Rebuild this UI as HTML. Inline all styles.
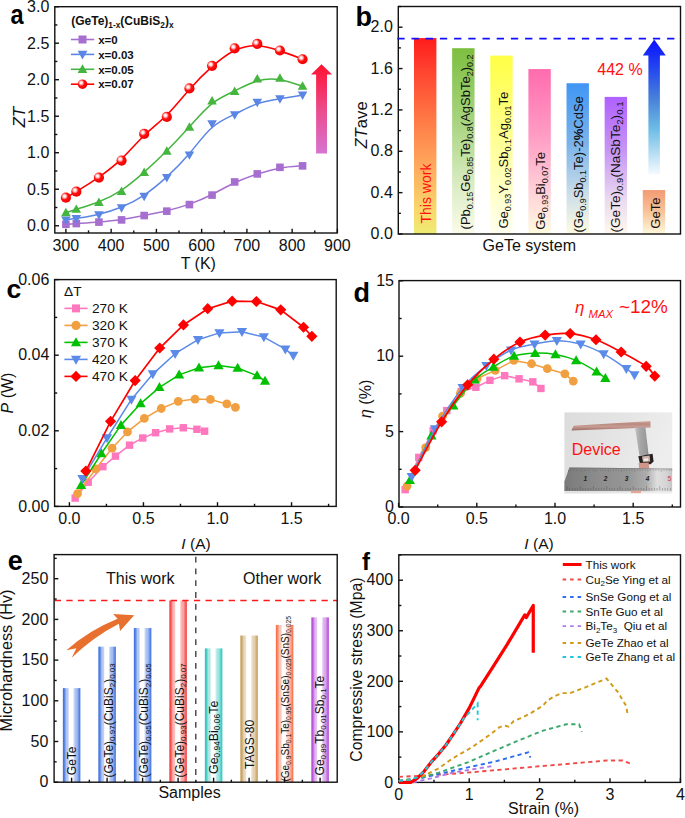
<!DOCTYPE html>
<html><head><meta charset="utf-8"><title>figure</title>
<style>html,body{margin:0;padding:0;background:#fff;overflow:hidden;}svg{display:block;}text{font-family:"Liberation Sans",sans-serif;}</style></head><body>
<svg width="685" height="818" viewBox="0 0 685 818" font-family='&quot;Liberation Sans&quot;, sans-serif'>
<defs><radialGradient id="sph" cx="0.37" cy="0.37" r="0.64" fx="0.36" fy="0.35"><stop offset="0" stop-color="#fff"/><stop offset="0.16" stop-color="#fff0f0"/><stop offset="0.32" stop-color="#ff9a9a"/><stop offset="0.52" stop-color="#ff1010"/><stop offset="1" stop-color="#f20000"/></radialGradient>
<linearGradient id="arrA" x1="0" y1="1" x2="0" y2="0"><stop offset="0" stop-color="#d674d2"/><stop offset="0.5" stop-color="#ec4a8a"/><stop offset="1" stop-color="#ff1030"/></linearGradient>
<linearGradient id="gb1" x1="0" y1="0" x2="0" y2="1"><stop offset="0" stop-color="#ff1c1c"/><stop offset="0.18" stop-color="#ff4630"/><stop offset="0.42" stop-color="#ff7a46"/><stop offset="0.66" stop-color="#ffaa5e"/><stop offset="0.86" stop-color="#fad46a"/><stop offset="1" stop-color="#eeec72"/></linearGradient>
<linearGradient id="gb2" x1="0" y1="0" x2="0" y2="1"><stop offset="0" stop-color="#7dbf40"/><stop offset="0.4" stop-color="#a8d480"/><stop offset="0.75" stop-color="#dcedc6"/><stop offset="1" stop-color="#fbfbe9"/></linearGradient>
<linearGradient id="gb3" x1="0" y1="0" x2="0" y2="1"><stop offset="0" stop-color="#ffff45"/><stop offset="0.4" stop-color="#ffff88"/><stop offset="0.75" stop-color="#ffffc4"/><stop offset="1" stop-color="#fffff2"/></linearGradient>
<linearGradient id="gb4" x1="0" y1="0" x2="0" y2="1"><stop offset="0" stop-color="#ff6cae"/><stop offset="0.4" stop-color="#ff9cc4"/><stop offset="0.75" stop-color="#ffd3d8"/><stop offset="1" stop-color="#fffbe0"/></linearGradient>
<linearGradient id="gb5" x1="0" y1="0" x2="0" y2="1"><stop offset="0" stop-color="#4096f4"/><stop offset="0.4" stop-color="#7ab3ea"/><stop offset="0.75" stop-color="#cfe0e8"/><stop offset="1" stop-color="#fffbe2"/></linearGradient>
<linearGradient id="gb6" x1="0" y1="0" x2="0" y2="1"><stop offset="0" stop-color="#b060ff"/><stop offset="0.4" stop-color="#c896f4"/><stop offset="0.75" stop-color="#eadaf0"/><stop offset="1" stop-color="#fff8ec"/></linearGradient>
<linearGradient id="gb7" x1="0" y1="0" x2="0" y2="1"><stop offset="0" stop-color="#f29a72"/><stop offset="0.5" stop-color="#f8c49a"/><stop offset="1" stop-color="#fff8dc"/></linearGradient>
<linearGradient id="arrB" x1="0" y1="0" x2="0" y2="1"><stop offset="0" stop-color="#0a10ff"/><stop offset="0.18" stop-color="#1f3ef2"/><stop offset="0.45" stop-color="#4a84d8"/><stop offset="0.66" stop-color="#6cbce6"/><stop offset="0.84" stop-color="#b4ddf3"/><stop offset="1" stop-color="#f6faff"/></linearGradient>
<linearGradient id="phbg" x1="0" y1="0" x2="1" y2="0.3"><stop offset="0" stop-color="#dcdcdc"/><stop offset="0.6" stop-color="#e6e6e6"/><stop offset="1" stop-color="#eeeeee"/></linearGradient>
<linearGradient id="ruler" x1="0" y1="0" x2="1" y2="0"><stop offset="0" stop-color="#7a7a7a"/><stop offset="0.3" stop-color="#8c8c8c"/><stop offset="0.6" stop-color="#979797"/><stop offset="0.76" stop-color="#acacac"/><stop offset="0.86" stop-color="#dedede"/><stop offset="0.95" stop-color="#d4d4d4"/><stop offset="1" stop-color="#c4c4c4"/></linearGradient>
<linearGradient id="bar" x1="0" y1="0" x2="1" y2="0"><stop offset="0" stop-color="#9a9a9a"/><stop offset="0.45" stop-color="#c8c8c8"/><stop offset="1" stop-color="#b0b0b0"/></linearGradient>
<linearGradient id="cu" x1="0" y1="0" x2="0" y2="1"><stop offset="0" stop-color="#d8b0a6"/><stop offset="0.3" stop-color="#b88a80"/><stop offset="0.6" stop-color="#c89c92"/><stop offset="1" stop-color="#9a6c64"/></linearGradient>
<linearGradient id="vb" x1="0" y1="0" x2="1" y2="0"><stop offset="0" stop-color="#c4c4c4"/><stop offset="0.35" stop-color="#a8a8a8"/><stop offset="0.8" stop-color="#9a9a9a"/><stop offset="1" stop-color="#8a8a8a"/></linearGradient>
<linearGradient id="ge0" x1="0" y1="0" x2="1" y2="0"><stop offset="0" stop-color="#3a6ee0"/><stop offset="0.08" stop-color="#3a6ee0" stop-opacity="0.88"/><stop offset="0.22" stop-color="#3a6ee0" stop-opacity="0.35"/><stop offset="0.36" stop-color="#ffffff"/><stop offset="0.58" stop-color="#ffffff"/><stop offset="0.8" stop-color="#3a6ee0" stop-opacity="0.45"/><stop offset="0.93" stop-color="#3a6ee0" stop-opacity="0.82"/><stop offset="1" stop-color="#3a6ee0"/></linearGradient>
<linearGradient id="ge1" x1="0" y1="0" x2="1" y2="0"><stop offset="0" stop-color="#3a6ee0"/><stop offset="0.08" stop-color="#3a6ee0" stop-opacity="0.88"/><stop offset="0.22" stop-color="#3a6ee0" stop-opacity="0.35"/><stop offset="0.36" stop-color="#ffffff"/><stop offset="0.58" stop-color="#ffffff"/><stop offset="0.8" stop-color="#3a6ee0" stop-opacity="0.45"/><stop offset="0.93" stop-color="#3a6ee0" stop-opacity="0.82"/><stop offset="1" stop-color="#3a6ee0"/></linearGradient>
<linearGradient id="ge2" x1="0" y1="0" x2="1" y2="0"><stop offset="0" stop-color="#3a6ee0"/><stop offset="0.08" stop-color="#3a6ee0" stop-opacity="0.88"/><stop offset="0.22" stop-color="#3a6ee0" stop-opacity="0.35"/><stop offset="0.36" stop-color="#ffffff"/><stop offset="0.58" stop-color="#ffffff"/><stop offset="0.8" stop-color="#3a6ee0" stop-opacity="0.45"/><stop offset="0.93" stop-color="#3a6ee0" stop-opacity="0.82"/><stop offset="1" stop-color="#3a6ee0"/></linearGradient>
<linearGradient id="ge3" x1="0" y1="0" x2="1" y2="0"><stop offset="0" stop-color="#f23a3a"/><stop offset="0.08" stop-color="#f23a3a" stop-opacity="0.88"/><stop offset="0.22" stop-color="#f23a3a" stop-opacity="0.35"/><stop offset="0.36" stop-color="#ffffff"/><stop offset="0.58" stop-color="#ffffff"/><stop offset="0.8" stop-color="#f23a3a" stop-opacity="0.45"/><stop offset="0.93" stop-color="#f23a3a" stop-opacity="0.82"/><stop offset="1" stop-color="#f23a3a"/></linearGradient>
<linearGradient id="ge4" x1="0" y1="0" x2="1" y2="0"><stop offset="0" stop-color="#26c4bc"/><stop offset="0.08" stop-color="#26c4bc" stop-opacity="0.88"/><stop offset="0.22" stop-color="#26c4bc" stop-opacity="0.35"/><stop offset="0.36" stop-color="#ffffff"/><stop offset="0.58" stop-color="#ffffff"/><stop offset="0.8" stop-color="#26c4bc" stop-opacity="0.45"/><stop offset="0.93" stop-color="#26c4bc" stop-opacity="0.82"/><stop offset="1" stop-color="#26c4bc"/></linearGradient>
<linearGradient id="ge5" x1="0" y1="0" x2="1" y2="0"><stop offset="0" stop-color="#c49a52"/><stop offset="0.08" stop-color="#c49a52" stop-opacity="0.88"/><stop offset="0.22" stop-color="#c49a52" stop-opacity="0.35"/><stop offset="0.36" stop-color="#ffffff"/><stop offset="0.58" stop-color="#ffffff"/><stop offset="0.8" stop-color="#c49a52" stop-opacity="0.45"/><stop offset="0.93" stop-color="#c49a52" stop-opacity="0.82"/><stop offset="1" stop-color="#c49a52"/></linearGradient>
<linearGradient id="ge6" x1="0" y1="0" x2="1" y2="0"><stop offset="0" stop-color="#f86a42"/><stop offset="0.08" stop-color="#f86a42" stop-opacity="0.88"/><stop offset="0.22" stop-color="#f86a42" stop-opacity="0.35"/><stop offset="0.36" stop-color="#ffffff"/><stop offset="0.58" stop-color="#ffffff"/><stop offset="0.8" stop-color="#f86a42" stop-opacity="0.45"/><stop offset="0.93" stop-color="#f86a42" stop-opacity="0.82"/><stop offset="1" stop-color="#f86a42"/></linearGradient>
<linearGradient id="ge7" x1="0" y1="0" x2="1" y2="0"><stop offset="0" stop-color="#b044d6"/><stop offset="0.08" stop-color="#b044d6" stop-opacity="0.88"/><stop offset="0.22" stop-color="#b044d6" stop-opacity="0.35"/><stop offset="0.36" stop-color="#ffffff"/><stop offset="0.58" stop-color="#ffffff"/><stop offset="0.8" stop-color="#b044d6" stop-opacity="0.45"/><stop offset="0.93" stop-color="#b044d6" stop-opacity="0.82"/><stop offset="1" stop-color="#b044d6"/></linearGradient></defs>
<rect width="685" height="818" fill="#fff"/>
<rect x="54.8" y="6.7" width="282.4" height="226.3" fill="none" stroke="#111" stroke-width="1.4"/>
<line x1="54.8" y1="225.75" x2="59" y2="225.75" stroke="#111" stroke-width="1.4"/>
<line x1="54.8" y1="189.24" x2="59" y2="189.24" stroke="#111" stroke-width="1.4"/>
<line x1="54.8" y1="152.73" x2="59" y2="152.73" stroke="#111" stroke-width="1.4"/>
<line x1="54.8" y1="116.22" x2="59" y2="116.22" stroke="#111" stroke-width="1.4"/>
<line x1="54.8" y1="79.71" x2="59" y2="79.71" stroke="#111" stroke-width="1.4"/>
<line x1="54.8" y1="43.2" x2="59" y2="43.2" stroke="#111" stroke-width="1.4"/>
<line x1="54.8" y1="6.69" x2="59" y2="6.69" stroke="#111" stroke-width="1.4"/>
<line x1="54.8" y1="207.5" x2="57.4" y2="207.5" stroke="#111" stroke-width="1.4"/>
<line x1="54.8" y1="170.99" x2="57.4" y2="170.99" stroke="#111" stroke-width="1.4"/>
<line x1="54.8" y1="134.48" x2="57.4" y2="134.48" stroke="#111" stroke-width="1.4"/>
<line x1="54.8" y1="97.97" x2="57.4" y2="97.97" stroke="#111" stroke-width="1.4"/>
<line x1="54.8" y1="61.46" x2="57.4" y2="61.46" stroke="#111" stroke-width="1.4"/>
<line x1="54.8" y1="24.95" x2="57.4" y2="24.95" stroke="#111" stroke-width="1.4"/>
<line x1="65.9" y1="233" x2="65.9" y2="228.8" stroke="#111" stroke-width="1.4"/>
<line x1="111.15" y1="233" x2="111.15" y2="228.8" stroke="#111" stroke-width="1.4"/>
<line x1="156.4" y1="233" x2="156.4" y2="228.8" stroke="#111" stroke-width="1.4"/>
<line x1="201.65" y1="233" x2="201.65" y2="228.8" stroke="#111" stroke-width="1.4"/>
<line x1="246.9" y1="233" x2="246.9" y2="228.8" stroke="#111" stroke-width="1.4"/>
<line x1="292.15" y1="233" x2="292.15" y2="228.8" stroke="#111" stroke-width="1.4"/>
<line x1="337.4" y1="233" x2="337.4" y2="228.8" stroke="#111" stroke-width="1.4"/>
<line x1="88.53" y1="233" x2="88.53" y2="230.4" stroke="#111" stroke-width="1.4"/>
<line x1="133.78" y1="233" x2="133.78" y2="230.4" stroke="#111" stroke-width="1.4"/>
<line x1="179.03" y1="233" x2="179.03" y2="230.4" stroke="#111" stroke-width="1.4"/>
<line x1="224.28" y1="233" x2="224.28" y2="230.4" stroke="#111" stroke-width="1.4"/>
<line x1="269.52" y1="233" x2="269.52" y2="230.4" stroke="#111" stroke-width="1.4"/>
<line x1="314.77" y1="233" x2="314.77" y2="230.4" stroke="#111" stroke-width="1.4"/>
<text x="49.3" y="231.05" font-size="16" text-anchor="end" font-weight="normal" font-style="normal" fill="#111" >0.0</text>
<text x="49.3" y="194.54" font-size="16" text-anchor="end" font-weight="normal" font-style="normal" fill="#111" >0.5</text>
<text x="49.3" y="158.03" font-size="16" text-anchor="end" font-weight="normal" font-style="normal" fill="#111" >1.0</text>
<text x="49.3" y="121.52" font-size="16" text-anchor="end" font-weight="normal" font-style="normal" fill="#111" >1.5</text>
<text x="49.3" y="85.01" font-size="16" text-anchor="end" font-weight="normal" font-style="normal" fill="#111" >2.0</text>
<text x="49.3" y="48.5" font-size="16" text-anchor="end" font-weight="normal" font-style="normal" fill="#111" >2.5</text>
<text x="49.3" y="11.99" font-size="16" text-anchor="end" font-weight="normal" font-style="normal" fill="#111" >3.0</text>
<text x="65.9" y="251" font-size="16" text-anchor="middle" font-weight="normal" font-style="normal" fill="#111" >300</text>
<text x="111.15" y="251" font-size="16" text-anchor="middle" font-weight="normal" font-style="normal" fill="#111" >400</text>
<text x="156.4" y="251" font-size="16" text-anchor="middle" font-weight="normal" font-style="normal" fill="#111" >500</text>
<text x="201.65" y="251" font-size="16" text-anchor="middle" font-weight="normal" font-style="normal" fill="#111" >600</text>
<text x="246.9" y="251" font-size="16" text-anchor="middle" font-weight="normal" font-style="normal" fill="#111" >700</text>
<text x="292.15" y="251" font-size="16" text-anchor="middle" font-weight="normal" font-style="normal" fill="#111" >800</text>
<text x="337.4" y="251" font-size="16" text-anchor="middle" font-weight="normal" font-style="normal" fill="#111" >900</text>
<text x="198.3" y="268.8" font-size="16" text-anchor="middle" font-weight="normal" font-style="normal" fill="#111" >T (K)</text>
<text x="0" y="0" font-size="17" text-anchor="middle" font-weight="normal" font-style="italic" fill="#111" transform="translate(25.2,117.2) rotate(-90)">ZT</text>
<text x="0" y="0" font-size="28" text-anchor="start" font-weight="bold" font-style="normal" fill="#000" transform="translate(10.4,23.9) scale(0.84,1)">a</text>
<path d="M65.9,224.29 C65.9,224.29 65.9,224.29 67.63,224.17 C69.37,224.05 72.84,223.8 78.34,223.44 C83.85,223.07 91.39,222.59 98.93,221.98 C106.47,221.37 114.02,220.64 121.56,219.54 C129.1,218.45 136.64,216.99 144.18,215.53 C151.72,214.07 159.27,212.61 166.81,210.78 C174.35,208.96 181.89,206.76 189.43,204.09 C196.97,201.41 204.52,198.25 212.06,194.47 C219.6,190.7 227.14,186.32 234.68,182.79 C242.22,179.26 249.77,176.58 257.31,174.15 C264.85,171.72 272.39,169.52 279.93,168.19 C287.47,166.85 295.02,166.36 298.79,166.12 C302.56,165.87 302.56,165.87 302.56,165.87" fill="none" stroke="#a66fcf" stroke-width="1.5" stroke-linejoin="round"/>
<rect x="62.1" y="220.49" width="7.6" height="7.6" fill="#a66fcf"/>
<rect x="72.51" y="219.76" width="7.6" height="7.6" fill="#a66fcf"/>
<rect x="95.13" y="218.3" width="7.6" height="7.6" fill="#a66fcf"/>
<rect x="117.76" y="216.11" width="7.6" height="7.6" fill="#a66fcf"/>
<rect x="140.38" y="211.73" width="7.6" height="7.6" fill="#a66fcf"/>
<rect x="163.01" y="207.35" width="7.6" height="7.6" fill="#a66fcf"/>
<rect x="185.63" y="200.77" width="7.6" height="7.6" fill="#a66fcf"/>
<rect x="208.26" y="191.28" width="7.6" height="7.6" fill="#a66fcf"/>
<rect x="230.88" y="178.14" width="7.6" height="7.6" fill="#a66fcf"/>
<rect x="253.51" y="170.11" width="7.6" height="7.6" fill="#a66fcf"/>
<rect x="276.13" y="163.53" width="7.6" height="7.6" fill="#a66fcf"/>
<rect x="298.76" y="162.07" width="7.6" height="7.6" fill="#a66fcf"/>
<path d="M65.9,219.91 C65.9,219.91 65.9,219.91 67.63,219.66 C69.37,219.42 72.84,218.93 78.34,218.08 C83.85,217.23 91.39,216.01 98.93,214.24 C106.47,212.46 114.02,210.12 121.56,207.03 C129.1,203.94 136.64,200.1 144.18,195.06 C151.72,190.02 159.27,183.79 166.81,176.9 C174.35,170.01 181.89,162.47 189.43,153.52 C196.97,144.58 204.52,134.23 212.06,127.54 C219.6,120.84 227.14,117.8 234.68,114.21 C242.22,110.62 249.77,106.48 257.31,103.81 C264.85,101.13 272.39,99.91 279.93,98.7 C287.47,97.48 295.02,96.26 298.79,95.65 C302.56,95.04 302.56,95.04 302.56,95.04" fill="none" stroke="#5b86e3" stroke-width="1.5" stroke-linejoin="round"/>
<path d="M65.9,224.84 L70.69,216.38 L61.11,216.38 Z" fill="#5b86e3"/>
<path d="M76.31,223.38 L81.1,214.92 L71.51,214.92 Z" fill="#5b86e3"/>
<path d="M98.93,219.73 L103.73,211.27 L94.14,211.27 Z" fill="#5b86e3"/>
<path d="M121.56,212.72 L126.35,204.26 L116.76,204.26 Z" fill="#5b86e3"/>
<path d="M144.18,201.18 L148.98,192.72 L139.39,192.72 Z" fill="#5b86e3"/>
<path d="M166.81,182.49 L171.6,174.03 L162.01,174.03 Z" fill="#5b86e3"/>
<path d="M189.43,159.86 L194.23,151.4 L184.64,151.4 Z" fill="#5b86e3"/>
<path d="M212.06,128.82 L216.85,120.36 L207.26,120.36 Z" fill="#5b86e3"/>
<path d="M234.68,119.69 L239.48,111.23 L229.89,111.23 Z" fill="#5b86e3"/>
<path d="M257.31,107.28 L262.1,98.82 L252.51,98.82 Z" fill="#5b86e3"/>
<path d="M279.93,103.63 L284.73,95.17 L275.14,95.17 Z" fill="#5b86e3"/>
<path d="M302.56,99.98 L307.35,91.52 L297.76,91.52 Z" fill="#5b86e3"/>
<path d="M65.9,212.75 C65.9,212.75 65.9,212.75 67.63,212.18 C69.37,211.61 72.84,210.46 78.34,208.74 C83.85,207.01 91.39,204.7 98.93,201.71 C106.47,198.73 114.02,195.08 121.56,190.09 C129.1,185.1 136.64,178.77 144.18,172.08 C151.72,165.39 159.27,158.33 166.81,150.78 C174.35,143.24 181.89,135.21 189.43,126.81 C196.97,118.41 204.52,109.65 212.06,103.68 C219.6,97.72 227.14,94.56 234.68,90.91 C242.22,87.26 249.77,83.12 257.31,80.93 C264.85,78.74 272.39,78.49 279.93,79.71 C287.47,80.93 295.02,83.6 298.79,84.94 C302.56,86.28 302.56,86.28 302.56,86.28" fill="none" stroke="#44b53e" stroke-width="1.5" stroke-linejoin="round"/>
<path d="M65.9,207.82 L70.69,216.28 L61.11,216.28 Z" fill="#44b53e"/>
<path d="M76.31,204.39 L81.1,212.85 L71.51,212.85 Z" fill="#44b53e"/>
<path d="M98.93,197.45 L103.73,205.91 L94.14,205.91 Z" fill="#44b53e"/>
<path d="M121.56,186.5 L126.35,194.96 L116.76,194.96 Z" fill="#44b53e"/>
<path d="M144.18,167.51 L148.98,175.97 L139.39,175.97 Z" fill="#44b53e"/>
<path d="M166.81,146.33 L171.6,154.79 L162.01,154.79 Z" fill="#44b53e"/>
<path d="M189.43,122.24 L194.23,130.7 L184.64,130.7 Z" fill="#44b53e"/>
<path d="M212.06,95.95 L216.85,104.41 L207.26,104.41 Z" fill="#44b53e"/>
<path d="M234.68,86.46 L239.48,94.92 L229.89,94.92 Z" fill="#44b53e"/>
<path d="M257.31,74.04 L262.1,82.5 L252.51,82.5 Z" fill="#44b53e"/>
<path d="M279.93,73.31 L284.73,81.77 L275.14,81.77 Z" fill="#44b53e"/>
<path d="M302.56,81.35 L307.35,89.81 L297.76,89.81 Z" fill="#44b53e"/>
<path d="M65.9,197.71 C65.9,197.71 65.9,197.71 67.63,196.7 C69.37,195.69 72.84,193.67 78.34,190.31 C83.85,186.95 91.39,182.25 98.93,177.07 C106.47,171.89 114.02,166.21 121.56,158.94 C129.1,151.66 136.64,142.77 144.18,135.51 C151.72,128.24 159.27,122.6 166.81,115.03 C174.35,107.46 181.89,97.97 189.43,89.45 C196.97,80.93 204.52,73.38 212.06,66.69 C219.6,59.99 227.14,54.15 234.68,50.5 C242.22,46.85 249.77,45.39 257.31,45.76 C264.85,46.12 272.39,48.31 279.93,50.87 C287.47,53.42 295.02,56.34 298.79,57.8 C302.56,59.26 302.56,59.26 302.56,59.26" fill="none" stroke="#ff0000" stroke-width="1.6" stroke-linejoin="round"/>
<circle cx="65.9" cy="197.71" r="5.1" fill="url(#sph)"/>
<circle cx="76.31" cy="191.65" r="5.1" fill="url(#sph)"/>
<circle cx="98.93" cy="177.56" r="5.1" fill="url(#sph)"/>
<circle cx="121.56" cy="160.54" r="5.1" fill="url(#sph)"/>
<circle cx="144.18" cy="133.89" r="5.1" fill="url(#sph)"/>
<circle cx="166.81" cy="116.95" r="5.1" fill="url(#sph)"/>
<circle cx="189.43" cy="88.47" r="5.1" fill="url(#sph)"/>
<circle cx="212.06" cy="65.84" r="5.1" fill="url(#sph)"/>
<circle cx="234.68" cy="48.31" r="5.1" fill="url(#sph)"/>
<circle cx="257.31" cy="43.93" r="5.1" fill="url(#sph)"/>
<circle cx="279.93" cy="50.5" r="5.1" fill="url(#sph)"/>
<circle cx="302.56" cy="59.26" r="5.1" fill="url(#sph)"/>
<text x="71.2" y="25.1" font-size="12" text-anchor="start" font-weight="bold" font-style="normal" fill="#111" >(GeTe)<tspan font-size="8.3" dy="3">1-x</tspan><tspan dy="-3">(CuBiS</tspan><tspan font-size="8.3" dy="3">2</tspan><tspan dy="-3">)</tspan><tspan font-size="8.3" dy="3">x</tspan></text>
<line x1="70.9" y1="39.5" x2="94.2" y2="39.5" stroke="#a66fcf" stroke-width="1.6"/>
<rect x="78.5" y="35.5" width="8" height="8" fill="#a66fcf"/>
<text x="98.2" y="43.7" font-size="11.5" text-anchor="start" font-weight="bold" font-style="normal" fill="#111" >x=0</text>
<line x1="70.9" y1="54.4" x2="94.2" y2="54.4" stroke="#5b86e3" stroke-width="1.6"/>
<path d="M82.5,59.44 L87.4,50.8 L77.6,50.8 Z" fill="#5b86e3"/>
<text x="98.2" y="58.6" font-size="11.5" text-anchor="start" font-weight="bold" font-style="normal" fill="#111" >x=0.03</text>
<line x1="70.9" y1="69.3" x2="94.2" y2="69.3" stroke="#44b53e" stroke-width="1.6"/>
<path d="M82.5,64.26 L87.4,72.9 L77.6,72.9 Z" fill="#44b53e"/>
<text x="98.2" y="73.5" font-size="11.5" text-anchor="start" font-weight="bold" font-style="normal" fill="#111" >x=0.05</text>
<line x1="70.9" y1="84.2" x2="94.2" y2="84.2" stroke="#ff0000" stroke-width="1.6"/>
<circle cx="82.5" cy="84.2" r="4.8" fill="url(#sph)"/>
<text x="98.2" y="88.4" font-size="11.5" text-anchor="start" font-weight="bold" font-style="normal" fill="#111" >x=0.07</text>
<path d="M316.1,153.4 L316.1,74.6 L311,74.6 L321.5,64.2 L332.1,74.6 L327,74.6 L327,153.4 Z" fill="url(#arrA)"/>
<rect x="414" y="38.06" width="22.4" height="195.94" fill="url(#gb1)"/>
<rect x="452.13" y="48.19" width="22.4" height="185.81" fill="url(#gb2)"/>
<rect x="490.26" y="55.63" width="22.4" height="178.37" fill="url(#gb3)"/>
<rect x="528.39" y="69.08" width="22.4" height="164.92" fill="url(#gb4)"/>
<rect x="566.52" y="83.24" width="22.4" height="150.76" fill="url(#gb5)"/>
<rect x="604.65" y="96.89" width="22.4" height="137.11" fill="url(#gb6)"/>
<rect x="642.78" y="190.06" width="22.4" height="43.94" fill="url(#gb7)"/>
<rect x="398.3" y="6.5" width="282.2" height="227.5" fill="none" stroke="#111" stroke-width="1.4"/>
<line x1="398.3" y1="234" x2="402.5" y2="234" stroke="#111" stroke-width="1.4"/>
<line x1="398.3" y1="192.64" x2="402.5" y2="192.64" stroke="#111" stroke-width="1.4"/>
<line x1="398.3" y1="151.28" x2="402.5" y2="151.28" stroke="#111" stroke-width="1.4"/>
<line x1="398.3" y1="109.92" x2="402.5" y2="109.92" stroke="#111" stroke-width="1.4"/>
<line x1="398.3" y1="68.56" x2="402.5" y2="68.56" stroke="#111" stroke-width="1.4"/>
<line x1="398.3" y1="27.2" x2="402.5" y2="27.2" stroke="#111" stroke-width="1.4"/>
<line x1="398.3" y1="213.32" x2="400.9" y2="213.32" stroke="#111" stroke-width="1.4"/>
<line x1="398.3" y1="171.96" x2="400.9" y2="171.96" stroke="#111" stroke-width="1.4"/>
<line x1="398.3" y1="130.6" x2="400.9" y2="130.6" stroke="#111" stroke-width="1.4"/>
<line x1="398.3" y1="89.24" x2="400.9" y2="89.24" stroke="#111" stroke-width="1.4"/>
<line x1="398.3" y1="47.88" x2="400.9" y2="47.88" stroke="#111" stroke-width="1.4"/>
<line x1="398.3" y1="6.52" x2="400.9" y2="6.52" stroke="#111" stroke-width="1.4"/>
<text x="392.8" y="239.2" font-size="16" text-anchor="end" font-weight="normal" font-style="normal" fill="#111" >0.0</text>
<text x="392.8" y="197.84" font-size="16" text-anchor="end" font-weight="normal" font-style="normal" fill="#111" >0.4</text>
<text x="392.8" y="156.48" font-size="16" text-anchor="end" font-weight="normal" font-style="normal" fill="#111" >0.8</text>
<text x="392.8" y="115.12" font-size="16" text-anchor="end" font-weight="normal" font-style="normal" fill="#111" >1.2</text>
<text x="392.8" y="73.76" font-size="16" text-anchor="end" font-weight="normal" font-style="normal" fill="#111" >1.6</text>
<text x="392.8" y="32.4" font-size="16" text-anchor="end" font-weight="normal" font-style="normal" fill="#111" >2.0</text>
<text x="0" y="0" font-size="16.6" text-anchor="middle" font-weight="normal" font-style="normal" fill="#111" transform="translate(367.2,124.9) rotate(-90)"><tspan font-style="italic">ZT</tspan>ave</text>
<text x="529.3" y="250.8" font-size="16" text-anchor="middle" font-weight="normal" font-style="normal" fill="#111" >GeTe system</text>
<text x="355.6" y="25.8" font-size="27" text-anchor="start" font-weight="bold" font-style="normal" fill="#000" >b</text>
<line x1="397.3" y1="38.6" x2="676" y2="38.6" stroke="#1010ff" stroke-width="1.7" stroke-dasharray="7.3,6.9"/>
<path d="M648.4,174.5 L648.4,55.4 L642.8,55.4 L654.2,39.6 L665.8,55.4 L659.9,55.4 L659.9,174.5 Z" fill="url(#arrB)"/>
<text x="597.3" y="74.6" font-size="16" text-anchor="start" font-weight="normal" font-style="normal" fill="#ff1010" >442 %</text>
<text transform="translate(431.4,223.5) rotate(-90)" font-size="14" fill="#ff1010">This work</text>
<text transform="translate(470.3,229.4) rotate(-90)" font-size="13" fill="#111">(Pb<tspan font-size="9" dy="3.0">0.15</tspan><tspan dy="-3.0">Ge</tspan><tspan font-size="9" dy="3.0">0.85</tspan><tspan dy="-3.0">Te)</tspan><tspan font-size="9" dy="3.0">0.8</tspan><tspan dy="-3.0">(AgSbTe</tspan><tspan font-size="9" dy="3.0">2</tspan><tspan dy="-3.0">)</tspan><tspan font-size="9" dy="3.0">0.2</tspan></text>
<text transform="translate(507.6,228.5) rotate(-90)" font-size="13" fill="#111">Ge<tspan font-size="9" dy="3.0">0.93</tspan><tspan dy="-3.0">Y</tspan><tspan font-size="9" dy="3.0">0.02</tspan><tspan dy="-3.0">Sb</tspan><tspan font-size="9" dy="3.0">0.1</tspan><tspan dy="-3.0">Ag</tspan><tspan font-size="9" dy="3.0">0.01</tspan><tspan dy="-3.0">Te</tspan></text>
<text transform="translate(544.6,229.7) rotate(-90)" font-size="13" fill="#111">Ge<tspan font-size="9" dy="3.0">0.93</tspan><tspan dy="-3.0">Bi</tspan><tspan font-size="9" dy="3.0">0.07</tspan><tspan dy="-3.0">Te</tspan></text>
<text transform="translate(583,232.5) rotate(-90)" font-size="13" fill="#111">(Ge<tspan font-size="9" dy="3.0">0.9</tspan><tspan dy="-3.0">Sb</tspan><tspan font-size="9" dy="3.0">0.1</tspan><tspan dy="-3.0">Te)-2</tspan><tspan font-weight="bold">%</tspan>CdSe</text>
<text transform="translate(620.4,232.5) rotate(-90)" font-size="13.6" fill="#111">(GeTe)<tspan font-size="9.6" dy="3.0">0.9</tspan><tspan dy="-3.0">(NaSbTe</tspan><tspan font-size="9.6" dy="3.0">2</tspan><tspan dy="-3.0">)</tspan><tspan font-size="9.6" dy="3.0">0.1</tspan></text>
<text transform="translate(659.5,228.7) rotate(-90)" font-size="13" fill="#111">GeTe</text>
<rect x="54.6" y="279.6" width="281.6" height="226.8" fill="none" stroke="#111" stroke-width="1.4"/>
<line x1="54.6" y1="506.4" x2="58.8" y2="506.4" stroke="#111" stroke-width="1.4"/>
<line x1="54.6" y1="430.8" x2="58.8" y2="430.8" stroke="#111" stroke-width="1.4"/>
<line x1="54.6" y1="355.2" x2="58.8" y2="355.2" stroke="#111" stroke-width="1.4"/>
<line x1="54.6" y1="279.6" x2="58.8" y2="279.6" stroke="#111" stroke-width="1.4"/>
<line x1="54.6" y1="468.6" x2="57.2" y2="468.6" stroke="#111" stroke-width="1.4"/>
<line x1="54.6" y1="393" x2="57.2" y2="393" stroke="#111" stroke-width="1.4"/>
<line x1="54.6" y1="317.4" x2="57.2" y2="317.4" stroke="#111" stroke-width="1.4"/>
<line x1="69.4" y1="506.4" x2="69.4" y2="502.2" stroke="#111" stroke-width="1.4"/>
<line x1="143.45" y1="506.4" x2="143.45" y2="502.2" stroke="#111" stroke-width="1.4"/>
<line x1="217.5" y1="506.4" x2="217.5" y2="502.2" stroke="#111" stroke-width="1.4"/>
<line x1="291.55" y1="506.4" x2="291.55" y2="502.2" stroke="#111" stroke-width="1.4"/>
<line x1="106.43" y1="506.4" x2="106.43" y2="503.8" stroke="#111" stroke-width="1.4"/>
<line x1="180.47" y1="506.4" x2="180.47" y2="503.8" stroke="#111" stroke-width="1.4"/>
<line x1="254.53" y1="506.4" x2="254.53" y2="503.8" stroke="#111" stroke-width="1.4"/>
<line x1="328.58" y1="506.4" x2="328.58" y2="503.8" stroke="#111" stroke-width="1.4"/>
<text x="49.3" y="511.6" font-size="16" text-anchor="end" font-weight="normal" font-style="normal" fill="#111" >0.00</text>
<text x="49.3" y="436" font-size="16" text-anchor="end" font-weight="normal" font-style="normal" fill="#111" >0.02</text>
<text x="49.3" y="360.4" font-size="16" text-anchor="end" font-weight="normal" font-style="normal" fill="#111" >0.04</text>
<text x="49.3" y="284.8" font-size="16" text-anchor="end" font-weight="normal" font-style="normal" fill="#111" >0.06</text>
<text x="69.4" y="524.3" font-size="16" text-anchor="middle" font-weight="normal" font-style="normal" fill="#111" >0.0</text>
<text x="143.45" y="524.3" font-size="16" text-anchor="middle" font-weight="normal" font-style="normal" fill="#111" >0.5</text>
<text x="217.5" y="524.3" font-size="16" text-anchor="middle" font-weight="normal" font-style="normal" fill="#111" >1.0</text>
<text x="291.55" y="524.3" font-size="16" text-anchor="middle" font-weight="normal" font-style="normal" fill="#111" >1.5</text>
<text x="196" y="549.3" font-size="15.5" text-anchor="middle" font-weight="normal" font-style="normal" fill="#111" ><tspan font-style="italic">I</tspan> (A)</text>
<text x="0" y="0" font-size="16" text-anchor="middle" font-weight="normal" font-style="normal" fill="#111" transform="translate(13.3,393) rotate(-90)"><tspan font-style="italic">P</tspan> (W)</text>
<text x="6.4" y="298.4" font-size="26.5" text-anchor="start" font-weight="bold" font-style="normal" fill="#000" >c</text>
<path d="M75.18,498.08 L88.21,482.21 L102.87,466.71 L115.46,456.13 L129.53,445.16 L142.71,437.98 L155.59,432.69 L169.66,428.91 L183.29,427.78 L196.91,429.29 L204.62,431.18" fill="none" stroke="#ff77bd" stroke-width="1.5" stroke-linejoin="round"/>
<rect x="71.48" y="494.38" width="7.4" height="7.4" fill="#ff77bd"/>
<rect x="84.51" y="478.51" width="7.4" height="7.4" fill="#ff77bd"/>
<rect x="99.17" y="463.01" width="7.4" height="7.4" fill="#ff77bd"/>
<rect x="111.76" y="452.43" width="7.4" height="7.4" fill="#ff77bd"/>
<rect x="125.83" y="441.46" width="7.4" height="7.4" fill="#ff77bd"/>
<rect x="139.01" y="434.28" width="7.4" height="7.4" fill="#ff77bd"/>
<rect x="151.89" y="428.99" width="7.4" height="7.4" fill="#ff77bd"/>
<rect x="165.96" y="425.21" width="7.4" height="7.4" fill="#ff77bd"/>
<rect x="179.59" y="424.08" width="7.4" height="7.4" fill="#ff77bd"/>
<rect x="193.21" y="425.59" width="7.4" height="7.4" fill="#ff77bd"/>
<rect x="200.92" y="427.48" width="7.4" height="7.4" fill="#ff77bd"/>
<path d="M77.55,493.55 L95.76,468.98 L112.05,448.19 L127.46,431.93 L144.34,418.33 L161.22,408.5 L178.25,401.32 L194.99,399.05 L210.39,399.43 L226.83,403.96 L235.42,407.36" fill="none" stroke="#f0a040" stroke-width="1.5" stroke-linejoin="round"/>
<circle cx="77.55" cy="493.55" r="4.4" fill="#f0a040"/>
<circle cx="95.76" cy="468.98" r="4.4" fill="#f0a040"/>
<circle cx="112.05" cy="448.19" r="4.4" fill="#f0a040"/>
<circle cx="127.46" cy="431.93" r="4.4" fill="#f0a040"/>
<circle cx="144.34" cy="418.33" r="4.4" fill="#f0a040"/>
<circle cx="161.22" cy="408.5" r="4.4" fill="#f0a040"/>
<circle cx="178.25" cy="401.32" r="4.4" fill="#f0a040"/>
<circle cx="194.99" cy="399.05" r="4.4" fill="#f0a040"/>
<circle cx="210.39" cy="399.43" r="4.4" fill="#f0a040"/>
<circle cx="226.83" cy="403.96" r="4.4" fill="#f0a040"/>
<circle cx="235.42" cy="407.36" r="4.4" fill="#f0a040"/>
<path d="M81.1,485.23 L101.39,453.48 L120.94,425.13 L140.64,403.58 L159.44,387.33 L179.14,374.86 L198.99,367.67 L218.54,365.41 L237.64,368.05 L257.04,375.61 L265.04,380.9" fill="none" stroke="#00c000" stroke-width="1.5" stroke-linejoin="round"/>
<path d="M81.1,479.98 L86.2,488.98 L76,488.98 Z" fill="#00c000"/>
<path d="M101.39,448.23 L106.49,457.23 L96.29,457.23 Z" fill="#00c000"/>
<path d="M120.94,419.88 L126.04,428.88 L115.84,428.88 Z" fill="#00c000"/>
<path d="M140.64,398.33 L145.74,407.33 L135.54,407.33 Z" fill="#00c000"/>
<path d="M159.44,382.08 L164.54,391.08 L154.34,391.08 Z" fill="#00c000"/>
<path d="M179.14,369.61 L184.24,378.61 L174.04,378.61 Z" fill="#00c000"/>
<path d="M198.99,362.42 L204.09,371.42 L193.89,371.42 Z" fill="#00c000"/>
<path d="M218.54,360.16 L223.64,369.16 L213.44,369.16 Z" fill="#00c000"/>
<path d="M237.64,362.8 L242.74,371.8 L232.54,371.8 Z" fill="#00c000"/>
<path d="M257.04,370.36 L262.14,379.36 L251.94,379.36 Z" fill="#00c000"/>
<path d="M265.04,375.65 L270.14,384.65 L259.94,384.65 Z" fill="#00c000"/>
<path d="M82.43,478.81 L107.02,437.98 L131.45,399.43 L152.78,374.1 L175.14,353.69 L197.95,339.7 L219.43,332.9 L241.94,331.76 L263.86,337.06 L285.33,349.15 L293.33,355.58" fill="none" stroke="#5b8ae8" stroke-width="1.5" stroke-linejoin="round"/>
<path d="M82.43,484.06 L87.53,475.06 L77.33,475.06 Z" fill="#5b8ae8"/>
<path d="M107.02,443.23 L112.12,434.23 L101.92,434.23 Z" fill="#5b8ae8"/>
<path d="M131.45,404.68 L136.55,395.68 L126.35,395.68 Z" fill="#5b8ae8"/>
<path d="M152.78,379.35 L157.88,370.35 L147.68,370.35 Z" fill="#5b8ae8"/>
<path d="M175.14,358.94 L180.24,349.94 L170.04,349.94 Z" fill="#5b8ae8"/>
<path d="M197.95,344.95 L203.05,335.95 L192.85,335.95 Z" fill="#5b8ae8"/>
<path d="M219.43,338.15 L224.53,329.15 L214.33,329.15 Z" fill="#5b8ae8"/>
<path d="M241.94,337.01 L247.04,328.01 L236.84,328.01 Z" fill="#5b8ae8"/>
<path d="M263.86,342.31 L268.96,333.31 L258.76,333.31 Z" fill="#5b8ae8"/>
<path d="M285.33,354.4 L290.43,345.4 L280.23,345.4 Z" fill="#5b8ae8"/>
<path d="M293.33,360.83 L298.43,351.83 L288.23,351.83 Z" fill="#5b8ae8"/>
<path d="M85.84,471.09 L110.57,421.35 L135.16,380.53 L159.74,348.02 L183.44,324.96 L207.73,308.71 L232.16,301.15 L256.45,301.52 L280.74,309.84 L303.55,327.23 L311.84,336.3" fill="none" stroke="#ff0000" stroke-width="1.7" stroke-linejoin="round"/>
<path d="M85.84,465.49 L91.44,471.09 L85.84,476.69 L80.24,471.09 Z" fill="#ff0000"/>
<path d="M110.57,415.75 L116.17,421.35 L110.57,426.95 L104.97,421.35 Z" fill="#ff0000"/>
<path d="M135.16,374.93 L140.76,380.53 L135.16,386.13 L129.56,380.53 Z" fill="#ff0000"/>
<path d="M159.74,342.42 L165.34,348.02 L159.74,353.62 L154.14,348.02 Z" fill="#ff0000"/>
<path d="M183.44,319.36 L189.04,324.96 L183.44,330.56 L177.84,324.96 Z" fill="#ff0000"/>
<path d="M207.73,303.11 L213.33,308.71 L207.73,314.31 L202.13,308.71 Z" fill="#ff0000"/>
<path d="M232.16,295.55 L237.76,301.15 L232.16,306.75 L226.56,301.15 Z" fill="#ff0000"/>
<path d="M256.45,295.92 L262.05,301.52 L256.45,307.12 L250.85,301.52 Z" fill="#ff0000"/>
<path d="M280.74,304.24 L286.34,309.84 L280.74,315.44 L275.14,309.84 Z" fill="#ff0000"/>
<path d="M303.55,321.63 L309.15,327.23 L303.55,332.83 L297.95,327.23 Z" fill="#ff0000"/>
<path d="M311.84,330.7 L317.44,336.3 L311.84,341.9 L306.24,336.3 Z" fill="#ff0000"/>
<text x="64" y="296.2" font-size="13.7" text-anchor="start" font-weight="normal" font-style="normal" fill="#111" >&#916;T</text>
<line x1="64.4" y1="308.4" x2="87.6" y2="308.4" stroke="#ff77bd" stroke-width="1.6"/>
<rect x="72" y="304.4" width="8" height="8" fill="#ff77bd"/>
<text x="92" y="313.3" font-size="13.7" text-anchor="start" font-weight="normal" font-style="normal" fill="#111" >270 K</text>
<line x1="64.4" y1="325.4" x2="87.6" y2="325.4" stroke="#f0a040" stroke-width="1.6"/>
<circle cx="76" cy="325.4" r="4.6" fill="#f0a040"/>
<text x="92" y="330.3" font-size="13.7" text-anchor="start" font-weight="normal" font-style="normal" fill="#111" >320 K</text>
<line x1="64.4" y1="342.4" x2="87.6" y2="342.4" stroke="#00c000" stroke-width="1.6"/>
<path d="M76,337.15 L81.1,346.15 L70.9,346.15 Z" fill="#00c000"/>
<text x="92" y="347.3" font-size="13.7" text-anchor="start" font-weight="normal" font-style="normal" fill="#111" >370 K</text>
<line x1="64.4" y1="359.4" x2="87.6" y2="359.4" stroke="#5b8ae8" stroke-width="1.6"/>
<path d="M76,364.65 L81.1,355.65 L70.9,355.65 Z" fill="#5b8ae8"/>
<text x="92" y="364.3" font-size="13.7" text-anchor="start" font-weight="normal" font-style="normal" fill="#111" >420 K</text>
<line x1="64.4" y1="376.4" x2="87.6" y2="376.4" stroke="#ff0000" stroke-width="1.6"/>
<path d="M76,370.8 L81.6,376.4 L76,382 L70.4,376.4 Z" fill="#ff0000"/>
<text x="92" y="381.3" font-size="13.7" text-anchor="start" font-weight="normal" font-style="normal" fill="#111" >470 K</text>
<rect x="399" y="280.6" width="281.5" height="226.4" fill="none" stroke="#111" stroke-width="1.4"/>
<line x1="399" y1="507" x2="403.2" y2="507" stroke="#111" stroke-width="1.4"/>
<line x1="399" y1="431.6" x2="403.2" y2="431.6" stroke="#111" stroke-width="1.4"/>
<line x1="399" y1="356.2" x2="403.2" y2="356.2" stroke="#111" stroke-width="1.4"/>
<line x1="399" y1="280.8" x2="403.2" y2="280.8" stroke="#111" stroke-width="1.4"/>
<line x1="399" y1="469.3" x2="401.6" y2="469.3" stroke="#111" stroke-width="1.4"/>
<line x1="399" y1="393.9" x2="401.6" y2="393.9" stroke="#111" stroke-width="1.4"/>
<line x1="399" y1="318.5" x2="401.6" y2="318.5" stroke="#111" stroke-width="1.4"/>
<line x1="398.6" y1="507" x2="398.6" y2="502.8" stroke="#111" stroke-width="1.4"/>
<line x1="476.8" y1="507" x2="476.8" y2="502.8" stroke="#111" stroke-width="1.4"/>
<line x1="555" y1="507" x2="555" y2="502.8" stroke="#111" stroke-width="1.4"/>
<line x1="633.2" y1="507" x2="633.2" y2="502.8" stroke="#111" stroke-width="1.4"/>
<line x1="437.7" y1="507" x2="437.7" y2="504.4" stroke="#111" stroke-width="1.4"/>
<line x1="515.9" y1="507" x2="515.9" y2="504.4" stroke="#111" stroke-width="1.4"/>
<line x1="594.1" y1="507" x2="594.1" y2="504.4" stroke="#111" stroke-width="1.4"/>
<line x1="672.3" y1="507" x2="672.3" y2="504.4" stroke="#111" stroke-width="1.4"/>
<text x="394" y="512.2" font-size="16" text-anchor="end" font-weight="normal" font-style="normal" fill="#111" >0</text>
<text x="394" y="436.8" font-size="16" text-anchor="end" font-weight="normal" font-style="normal" fill="#111" >5</text>
<text x="394" y="361.4" font-size="16" text-anchor="end" font-weight="normal" font-style="normal" fill="#111" >10</text>
<text x="394" y="286" font-size="16" text-anchor="end" font-weight="normal" font-style="normal" fill="#111" >15</text>
<text x="398.6" y="524.3" font-size="16" text-anchor="middle" font-weight="normal" font-style="normal" fill="#111" >0.0</text>
<text x="476.8" y="524.3" font-size="16" text-anchor="middle" font-weight="normal" font-style="normal" fill="#111" >0.5</text>
<text x="555" y="524.3" font-size="16" text-anchor="middle" font-weight="normal" font-style="normal" fill="#111" >1.0</text>
<text x="633.2" y="524.3" font-size="16" text-anchor="middle" font-weight="normal" font-style="normal" fill="#111" >1.5</text>
<text x="539" y="549.3" font-size="15.5" text-anchor="middle" font-weight="normal" font-style="normal" fill="#111" ><tspan font-style="italic">I</tspan> (A)</text>
<text x="0" y="0" font-size="16" text-anchor="middle" font-weight="normal" font-style="normal" fill="#111" transform="translate(371.2,398.9) rotate(-90)"><tspan font-style="italic">&#951;</tspan> (%)</text>
<text x="353.6" y="301.8" font-size="27" text-anchor="start" font-weight="bold" font-style="normal" fill="#000" >d</text>
<path d="M405.17,489.66 L418.78,457.39 L433.16,430.54 L446.77,410.64 L461.16,391.49 L475.86,387.26 L489.94,380.33 L504.64,375.65 L519.03,378.82 L532.79,381.84 L540.92,388.47" fill="none" stroke="#ff77bd" stroke-width="1.5" stroke-linejoin="round"/>
<rect x="401.47" y="485.96" width="7.4" height="7.4" fill="#ff77bd"/>
<rect x="415.08" y="453.69" width="7.4" height="7.4" fill="#ff77bd"/>
<rect x="429.46" y="426.84" width="7.4" height="7.4" fill="#ff77bd"/>
<rect x="443.07" y="406.94" width="7.4" height="7.4" fill="#ff77bd"/>
<rect x="457.46" y="387.79" width="7.4" height="7.4" fill="#ff77bd"/>
<rect x="472.16" y="383.56" width="7.4" height="7.4" fill="#ff77bd"/>
<rect x="486.24" y="376.63" width="7.4" height="7.4" fill="#ff77bd"/>
<rect x="500.94" y="371.95" width="7.4" height="7.4" fill="#ff77bd"/>
<rect x="515.33" y="375.12" width="7.4" height="7.4" fill="#ff77bd"/>
<rect x="529.09" y="378.14" width="7.4" height="7.4" fill="#ff77bd"/>
<rect x="537.22" y="384.77" width="7.4" height="7.4" fill="#ff77bd"/>
<path d="M407.05,486.04 L425.66,447.58 L442.55,416.07 L460.38,393.3 L477.11,378.52 L495.26,370.38 L513.87,360.42 L531.54,363.74 L547.34,368.72 L564.85,373.84 L573.3,381.08" fill="none" stroke="#f0a040" stroke-width="1.5" stroke-linejoin="round"/>
<circle cx="407.05" cy="486.04" r="4.4" fill="#f0a040"/>
<circle cx="425.66" cy="447.58" r="4.4" fill="#f0a040"/>
<circle cx="442.55" cy="416.07" r="4.4" fill="#f0a040"/>
<circle cx="460.38" cy="393.3" r="4.4" fill="#f0a040"/>
<circle cx="477.11" cy="378.52" r="4.4" fill="#f0a040"/>
<circle cx="495.26" cy="370.38" r="4.4" fill="#f0a040"/>
<circle cx="513.87" cy="360.42" r="4.4" fill="#f0a040"/>
<circle cx="531.54" cy="363.74" r="4.4" fill="#f0a040"/>
<circle cx="547.34" cy="368.72" r="4.4" fill="#f0a040"/>
<circle cx="564.85" cy="373.84" r="4.4" fill="#f0a040"/>
<circle cx="573.3" cy="381.08" r="4.4" fill="#f0a040"/>
<path d="M409.86,480.16 C413.46,472.77 424.2,448.24 431.44,435.82 C438.69,423.41 446.12,415.01 453.34,405.66 C460.56,396.31 468.09,386.18 474.77,379.72 C481.44,373.27 486.84,370.88 493.38,366.91 C499.92,362.94 507.06,358.19 514.02,355.9 C520.98,353.61 528.23,353.41 535.14,353.18 C542.04,352.96 548.64,353.33 555.47,354.54 C562.3,355.75 569.26,357.56 576.11,360.42 C582.97,363.29 591.73,368.74 596.6,371.73 C601.48,374.72 603.9,377.26 605.36,378.37" fill="none" stroke="#00c000" stroke-width="1.5" stroke-linejoin="round"/>
<path d="M409.86,474.91 L414.96,483.91 L404.76,483.91 Z" fill="#00c000"/>
<path d="M431.44,430.57 L436.54,439.57 L426.34,439.57 Z" fill="#00c000"/>
<path d="M453.34,400.41 L458.44,409.41 L448.24,409.41 Z" fill="#00c000"/>
<path d="M474.77,374.47 L479.87,383.47 L469.67,383.47 Z" fill="#00c000"/>
<path d="M493.38,361.66 L498.48,370.66 L488.28,370.66 Z" fill="#00c000"/>
<path d="M514.02,350.65 L519.12,359.65 L508.92,359.65 Z" fill="#00c000"/>
<path d="M535.14,347.93 L540.24,356.93 L530.04,356.93 Z" fill="#00c000"/>
<path d="M555.47,349.29 L560.57,358.29 L550.37,358.29 Z" fill="#00c000"/>
<path d="M576.11,355.17 L581.21,364.17 L571.01,364.17 Z" fill="#00c000"/>
<path d="M596.6,366.48 L601.7,375.48 L591.5,375.48 Z" fill="#00c000"/>
<path d="M605.36,373.12 L610.46,382.12 L600.26,382.12 Z" fill="#00c000"/>
<path d="M411.74,476.69 C415.62,468.72 426.57,443.69 435.04,428.89 C443.51,414.08 454.02,398.4 462.57,387.87 C471.12,377.34 478.26,371.98 486.34,365.7 C494.42,359.42 503.02,353.76 511.05,350.17 C519.08,346.57 526.87,345.72 534.51,344.14 C542.15,342.55 549.19,340.67 556.88,340.67 C564.57,340.67 572.86,341.92 580.65,344.14 C588.44,346.35 596.03,349.84 603.64,353.94 C611.25,358.03 621.18,365.2 626.32,368.72 C631.45,372.24 633.1,373.99 634.45,375.05" fill="none" stroke="#5b8ae8" stroke-width="1.5" stroke-linejoin="round"/>
<path d="M411.74,481.94 L416.84,472.94 L406.64,472.94 Z" fill="#5b8ae8"/>
<path d="M435.04,434.14 L440.14,425.14 L429.94,425.14 Z" fill="#5b8ae8"/>
<path d="M462.57,393.12 L467.67,384.12 L457.47,384.12 Z" fill="#5b8ae8"/>
<path d="M486.34,370.95 L491.44,361.95 L481.24,361.95 Z" fill="#5b8ae8"/>
<path d="M511.05,355.42 L516.15,346.42 L505.95,346.42 Z" fill="#5b8ae8"/>
<path d="M534.51,349.39 L539.61,340.39 L529.41,340.39 Z" fill="#5b8ae8"/>
<path d="M556.88,345.92 L561.98,336.92 L551.78,336.92 Z" fill="#5b8ae8"/>
<path d="M580.65,349.39 L585.75,340.39 L575.55,340.39 Z" fill="#5b8ae8"/>
<path d="M603.64,359.19 L608.74,350.19 L598.54,350.19 Z" fill="#5b8ae8"/>
<path d="M626.32,373.97 L631.42,364.97 L621.22,364.97 Z" fill="#5b8ae8"/>
<path d="M634.45,380.3 L639.55,371.3 L629.35,371.3 Z" fill="#5b8ae8"/>
<path d="M415.18,470.36 C419.58,462.26 432.85,436.05 441.61,421.8 C450.37,407.55 459.02,395.28 467.73,384.85 C476.44,374.42 485.14,366.35 493.85,359.22 C502.55,352.08 511.42,346.05 519.97,342.02 C528.52,338 536.78,336.5 545.15,335.09 C553.51,333.68 561.7,332.8 570.17,333.58 C578.64,334.36 587.48,336.7 595.98,339.76 C604.47,342.83 612.79,347.55 621.16,351.98 C629.52,356.4 640.58,362.28 646.18,366.3 C651.79,370.32 653.35,374.47 654.78,376.11" fill="none" stroke="#ff0000" stroke-width="1.7" stroke-linejoin="round"/>
<path d="M415.18,464.76 L420.78,470.36 L415.18,475.96 L409.58,470.36 Z" fill="#ff0000"/>
<path d="M441.61,416.2 L447.21,421.8 L441.61,427.4 L436.01,421.8 Z" fill="#ff0000"/>
<path d="M467.73,379.25 L473.33,384.85 L467.73,390.45 L462.13,384.85 Z" fill="#ff0000"/>
<path d="M493.85,353.62 L499.45,359.22 L493.85,364.82 L488.25,359.22 Z" fill="#ff0000"/>
<path d="M519.97,336.42 L525.57,342.02 L519.97,347.62 L514.37,342.02 Z" fill="#ff0000"/>
<path d="M545.15,329.49 L550.75,335.09 L545.15,340.69 L539.55,335.09 Z" fill="#ff0000"/>
<path d="M570.17,327.98 L575.77,333.58 L570.17,339.18 L564.57,333.58 Z" fill="#ff0000"/>
<path d="M595.98,334.16 L601.58,339.76 L595.98,345.36 L590.38,339.76 Z" fill="#ff0000"/>
<path d="M621.16,346.38 L626.76,351.98 L621.16,357.58 L615.56,351.98 Z" fill="#ff0000"/>
<path d="M646.18,360.7 L651.78,366.3 L646.18,371.9 L640.58,366.3 Z" fill="#ff0000"/>
<path d="M654.78,370.51 L660.38,376.11 L654.78,381.71 L649.18,376.11 Z" fill="#ff0000"/>
<text x="575.0" y="312.8" font-size="17" fill="#ff1010" font-style="italic">&#951;</text>
<text x="588.6" y="317.6" font-size="11.3" fill="#ff1010" font-style="italic">MAX</text>
<text x="619.0" y="312.8" font-size="18.9" fill="#ff1010">~12%</text>
<rect x="564.4" y="412.4" width="107.8" height="81.2" fill="url(#phbg)"/>
<path d="M571.4,430.6 L573.6,425.8 L650.4,420.9 L650.6,427.6 Z" fill="url(#cu)"/>
<path d="M635.0,427.6 L645.4,427.2 L648.6,455.0 L639.4,455.6 Z" fill="url(#vb)"/>
<path d="M638.3,456.2 L652.6,453.8 L653.6,461.6 L650.6,464.2 L640.0,464.0 Z" fill="#262222"/>
<path d="M642.0,456.6 L649.6,455.6 L650.2,461.4 L643.0,462.0 Z" fill="#cfb0a8"/>
<path d="M643.6,458.6 L648.2,458.2 L648.2,460.8 L643.8,461.0 Z" fill="#ecece2"/>
<path d="M638.6,463.0 L648.6,462.6 L649.4,469.2 L639.2,469.4 Z" fill="#d0968a"/>
<path d="M569.4,467.4 L672.1,468.4 L672.1,491.3 L564.4,491.0 L564.4,481.5 Z" fill="url(#ruler)"/>
<path d="M569.4,467.4 L672.1,468.4 L672.1,469.4 L569.0,468.4 Z" fill="#666" opacity="0.5"/>
<rect x="631" y="490.5" width="10" height="2.6" fill="#e0a898"/>
<line x1="567" y1="490.4" x2="567" y2="486.2" stroke="#444" stroke-width="0.6" opacity="0.6"/>
<line x1="568.5" y1="469.6" x2="568.5" y2="472.12" stroke="#444" stroke-width="0.6" opacity="0.45"/>
<line x1="569.65" y1="490.4" x2="569.65" y2="488" stroke="#444" stroke-width="0.6" opacity="0.6"/>
<line x1="571.15" y1="469.6" x2="571.15" y2="471.04" stroke="#444" stroke-width="0.6" opacity="0.45"/>
<line x1="572.3" y1="490.4" x2="572.3" y2="488" stroke="#444" stroke-width="0.6" opacity="0.6"/>
<line x1="573.8" y1="469.6" x2="573.8" y2="471.04" stroke="#444" stroke-width="0.6" opacity="0.45"/>
<line x1="574.95" y1="490.4" x2="574.95" y2="488" stroke="#444" stroke-width="0.6" opacity="0.6"/>
<line x1="576.45" y1="469.6" x2="576.45" y2="471.04" stroke="#444" stroke-width="0.6" opacity="0.45"/>
<line x1="577.6" y1="490.4" x2="577.6" y2="488" stroke="#444" stroke-width="0.6" opacity="0.6"/>
<line x1="579.1" y1="469.6" x2="579.1" y2="471.04" stroke="#444" stroke-width="0.6" opacity="0.45"/>
<line x1="580.25" y1="490.4" x2="580.25" y2="486.2" stroke="#444" stroke-width="0.6" opacity="0.6"/>
<line x1="581.75" y1="469.6" x2="581.75" y2="472.12" stroke="#444" stroke-width="0.6" opacity="0.45"/>
<line x1="582.9" y1="490.4" x2="582.9" y2="488" stroke="#444" stroke-width="0.6" opacity="0.6"/>
<line x1="584.4" y1="469.6" x2="584.4" y2="471.04" stroke="#444" stroke-width="0.6" opacity="0.45"/>
<line x1="585.55" y1="490.4" x2="585.55" y2="488" stroke="#444" stroke-width="0.6" opacity="0.6"/>
<line x1="587.05" y1="469.6" x2="587.05" y2="471.04" stroke="#444" stroke-width="0.6" opacity="0.45"/>
<line x1="588.2" y1="490.4" x2="588.2" y2="488" stroke="#444" stroke-width="0.6" opacity="0.6"/>
<line x1="589.7" y1="469.6" x2="589.7" y2="471.04" stroke="#444" stroke-width="0.6" opacity="0.45"/>
<line x1="590.85" y1="490.4" x2="590.85" y2="488" stroke="#444" stroke-width="0.6" opacity="0.6"/>
<line x1="592.35" y1="469.6" x2="592.35" y2="471.04" stroke="#444" stroke-width="0.6" opacity="0.45"/>
<line x1="593.5" y1="490.4" x2="593.5" y2="486.2" stroke="#444" stroke-width="0.6" opacity="0.6"/>
<line x1="595" y1="469.6" x2="595" y2="472.12" stroke="#444" stroke-width="0.6" opacity="0.45"/>
<line x1="596.15" y1="490.4" x2="596.15" y2="488" stroke="#444" stroke-width="0.6" opacity="0.6"/>
<line x1="597.65" y1="469.6" x2="597.65" y2="471.04" stroke="#444" stroke-width="0.6" opacity="0.45"/>
<line x1="598.8" y1="490.4" x2="598.8" y2="488" stroke="#444" stroke-width="0.6" opacity="0.6"/>
<line x1="600.3" y1="469.6" x2="600.3" y2="471.04" stroke="#444" stroke-width="0.6" opacity="0.45"/>
<line x1="601.45" y1="490.4" x2="601.45" y2="488" stroke="#444" stroke-width="0.6" opacity="0.6"/>
<line x1="602.95" y1="469.6" x2="602.95" y2="471.04" stroke="#444" stroke-width="0.6" opacity="0.45"/>
<line x1="604.1" y1="490.4" x2="604.1" y2="488" stroke="#444" stroke-width="0.6" opacity="0.6"/>
<line x1="605.6" y1="469.6" x2="605.6" y2="471.04" stroke="#444" stroke-width="0.6" opacity="0.45"/>
<line x1="606.75" y1="490.4" x2="606.75" y2="486.2" stroke="#444" stroke-width="0.6" opacity="0.6"/>
<line x1="608.25" y1="469.6" x2="608.25" y2="472.12" stroke="#444" stroke-width="0.6" opacity="0.45"/>
<line x1="609.4" y1="490.4" x2="609.4" y2="488" stroke="#444" stroke-width="0.6" opacity="0.6"/>
<line x1="610.9" y1="469.6" x2="610.9" y2="471.04" stroke="#444" stroke-width="0.6" opacity="0.45"/>
<line x1="612.05" y1="490.4" x2="612.05" y2="488" stroke="#444" stroke-width="0.6" opacity="0.6"/>
<line x1="613.55" y1="469.6" x2="613.55" y2="471.04" stroke="#444" stroke-width="0.6" opacity="0.45"/>
<line x1="614.7" y1="490.4" x2="614.7" y2="488" stroke="#444" stroke-width="0.6" opacity="0.6"/>
<line x1="616.2" y1="469.6" x2="616.2" y2="471.04" stroke="#444" stroke-width="0.6" opacity="0.45"/>
<line x1="617.35" y1="490.4" x2="617.35" y2="488" stroke="#444" stroke-width="0.6" opacity="0.6"/>
<line x1="618.85" y1="469.6" x2="618.85" y2="471.04" stroke="#444" stroke-width="0.6" opacity="0.45"/>
<line x1="620" y1="490.4" x2="620" y2="486.2" stroke="#444" stroke-width="0.6" opacity="0.6"/>
<line x1="621.5" y1="469.6" x2="621.5" y2="472.12" stroke="#444" stroke-width="0.6" opacity="0.45"/>
<line x1="622.65" y1="490.4" x2="622.65" y2="488" stroke="#444" stroke-width="0.6" opacity="0.6"/>
<line x1="624.15" y1="469.6" x2="624.15" y2="471.04" stroke="#444" stroke-width="0.6" opacity="0.45"/>
<line x1="625.3" y1="490.4" x2="625.3" y2="488" stroke="#444" stroke-width="0.6" opacity="0.6"/>
<line x1="626.8" y1="469.6" x2="626.8" y2="471.04" stroke="#444" stroke-width="0.6" opacity="0.45"/>
<line x1="627.95" y1="490.4" x2="627.95" y2="488" stroke="#444" stroke-width="0.6" opacity="0.6"/>
<line x1="629.45" y1="469.6" x2="629.45" y2="471.04" stroke="#444" stroke-width="0.6" opacity="0.45"/>
<line x1="630.6" y1="490.4" x2="630.6" y2="488" stroke="#444" stroke-width="0.6" opacity="0.6"/>
<line x1="632.1" y1="469.6" x2="632.1" y2="471.04" stroke="#444" stroke-width="0.6" opacity="0.45"/>
<line x1="633.25" y1="490.4" x2="633.25" y2="486.2" stroke="#444" stroke-width="0.6" opacity="0.6"/>
<line x1="634.75" y1="469.6" x2="634.75" y2="472.12" stroke="#444" stroke-width="0.6" opacity="0.45"/>
<line x1="635.9" y1="490.4" x2="635.9" y2="488" stroke="#444" stroke-width="0.6" opacity="0.6"/>
<line x1="637.4" y1="469.6" x2="637.4" y2="471.04" stroke="#444" stroke-width="0.6" opacity="0.45"/>
<line x1="638.55" y1="490.4" x2="638.55" y2="488" stroke="#444" stroke-width="0.6" opacity="0.6"/>
<line x1="640.05" y1="469.6" x2="640.05" y2="471.04" stroke="#444" stroke-width="0.6" opacity="0.45"/>
<line x1="641.2" y1="490.4" x2="641.2" y2="488" stroke="#444" stroke-width="0.6" opacity="0.6"/>
<line x1="642.7" y1="469.6" x2="642.7" y2="471.04" stroke="#444" stroke-width="0.6" opacity="0.45"/>
<line x1="643.85" y1="490.4" x2="643.85" y2="488" stroke="#444" stroke-width="0.6" opacity="0.6"/>
<line x1="645.35" y1="469.6" x2="645.35" y2="471.04" stroke="#444" stroke-width="0.6" opacity="0.45"/>
<line x1="646.5" y1="490.4" x2="646.5" y2="486.2" stroke="#444" stroke-width="0.6" opacity="0.6"/>
<line x1="648" y1="469.6" x2="648" y2="472.12" stroke="#444" stroke-width="0.6" opacity="0.45"/>
<line x1="649.15" y1="490.4" x2="649.15" y2="488" stroke="#444" stroke-width="0.6" opacity="0.6"/>
<line x1="650.65" y1="469.6" x2="650.65" y2="471.04" stroke="#444" stroke-width="0.6" opacity="0.45"/>
<line x1="651.8" y1="490.4" x2="651.8" y2="488" stroke="#444" stroke-width="0.6" opacity="0.6"/>
<line x1="653.3" y1="469.6" x2="653.3" y2="471.04" stroke="#444" stroke-width="0.6" opacity="0.45"/>
<line x1="654.45" y1="490.4" x2="654.45" y2="488" stroke="#444" stroke-width="0.6" opacity="0.6"/>
<line x1="655.95" y1="469.6" x2="655.95" y2="471.04" stroke="#444" stroke-width="0.6" opacity="0.45"/>
<line x1="657.1" y1="490.4" x2="657.1" y2="488" stroke="#444" stroke-width="0.6" opacity="0.6"/>
<line x1="658.6" y1="469.6" x2="658.6" y2="471.04" stroke="#444" stroke-width="0.6" opacity="0.45"/>
<line x1="659.75" y1="490.4" x2="659.75" y2="486.2" stroke="#444" stroke-width="0.6" opacity="0.6"/>
<line x1="661.25" y1="469.6" x2="661.25" y2="472.12" stroke="#444" stroke-width="0.6" opacity="0.45"/>
<line x1="662.4" y1="490.4" x2="662.4" y2="488" stroke="#444" stroke-width="0.6" opacity="0.6"/>
<line x1="663.9" y1="469.6" x2="663.9" y2="471.04" stroke="#444" stroke-width="0.6" opacity="0.45"/>
<line x1="665.05" y1="490.4" x2="665.05" y2="488" stroke="#444" stroke-width="0.6" opacity="0.6"/>
<line x1="666.55" y1="469.6" x2="666.55" y2="471.04" stroke="#444" stroke-width="0.6" opacity="0.45"/>
<line x1="667.7" y1="490.4" x2="667.7" y2="488" stroke="#444" stroke-width="0.6" opacity="0.6"/>
<line x1="669.2" y1="469.6" x2="669.2" y2="471.04" stroke="#444" stroke-width="0.6" opacity="0.45"/>
<line x1="670.35" y1="490.4" x2="670.35" y2="488" stroke="#444" stroke-width="0.6" opacity="0.6"/>
<line x1="671.85" y1="469.6" x2="671.85" y2="471.04" stroke="#444" stroke-width="0.6" opacity="0.45"/>
<text x="585.4" y="481" font-size="6.5" font-weight="bold" font-style="italic" fill="#222" text-anchor="middle">1</text>
<text x="605.5" y="481" font-size="6.5" font-weight="bold" font-style="italic" fill="#222" text-anchor="middle">2</text>
<text x="626.6" y="481" font-size="6.5" font-weight="bold" font-style="italic" fill="#222" text-anchor="middle">3</text>
<text x="647.6" y="481" font-size="6.5" font-weight="bold" font-style="italic" fill="#222" text-anchor="middle">4</text>
<text x="669.5" y="481" font-size="7" fill="#d04040" text-anchor="middle">5</text>
<text x="571.8" y="455.3" font-size="16" fill="#ff1010">Device</text>
<rect x="62.85" y="688.1" width="17.5" height="94.1" fill="url(#ge0)"/>
<rect x="98.35" y="646.67" width="17.5" height="135.53" fill="url(#ge1)"/>
<rect x="133.85" y="628.03" width="17.5" height="154.17" fill="url(#ge2)"/>
<rect x="169.35" y="600.52" width="17.5" height="181.68" fill="url(#ge3)"/>
<rect x="204.85" y="648.38" width="17.5" height="133.82" fill="url(#ge4)"/>
<rect x="240.35" y="635.52" width="17.5" height="146.68" fill="url(#ge5)"/>
<rect x="275.85" y="624.94" width="17.5" height="157.26" fill="url(#ge6)"/>
<rect x="311.35" y="617.37" width="17.5" height="164.84" fill="url(#ge7)"/>
<line x1="54.7" y1="600.5" x2="337" y2="600.5" stroke="#ff1a1a" stroke-width="1.4" stroke-dasharray="6.3,5.3"/>
<line x1="195.8" y1="556.7" x2="195.8" y2="782" stroke="#333" stroke-width="1.3" stroke-dasharray="5.8,6"/>
<rect x="54.1" y="554.6" width="283.1" height="227.6" fill="none" stroke="#111" stroke-width="1.4"/>
<line x1="54.1" y1="782.2" x2="58.3" y2="782.2" stroke="#111" stroke-width="1.4"/>
<line x1="54.1" y1="741.5" x2="58.3" y2="741.5" stroke="#111" stroke-width="1.4"/>
<line x1="54.1" y1="700.8" x2="58.3" y2="700.8" stroke="#111" stroke-width="1.4"/>
<line x1="54.1" y1="660.1" x2="58.3" y2="660.1" stroke="#111" stroke-width="1.4"/>
<line x1="54.1" y1="619.4" x2="58.3" y2="619.4" stroke="#111" stroke-width="1.4"/>
<line x1="54.1" y1="578.7" x2="58.3" y2="578.7" stroke="#111" stroke-width="1.4"/>
<line x1="54.1" y1="761.85" x2="56.7" y2="761.85" stroke="#111" stroke-width="1.4"/>
<line x1="54.1" y1="721.15" x2="56.7" y2="721.15" stroke="#111" stroke-width="1.4"/>
<line x1="54.1" y1="680.45" x2="56.7" y2="680.45" stroke="#111" stroke-width="1.4"/>
<line x1="54.1" y1="639.75" x2="56.7" y2="639.75" stroke="#111" stroke-width="1.4"/>
<line x1="54.1" y1="599.05" x2="56.7" y2="599.05" stroke="#111" stroke-width="1.4"/>
<line x1="54.1" y1="558.35" x2="56.7" y2="558.35" stroke="#111" stroke-width="1.4"/>
<line x1="71.6" y1="782.2" x2="71.6" y2="777.7" stroke="#111" stroke-width="1.4"/>
<line x1="107.1" y1="782.2" x2="107.1" y2="777.7" stroke="#111" stroke-width="1.4"/>
<line x1="142.6" y1="782.2" x2="142.6" y2="777.7" stroke="#111" stroke-width="1.4"/>
<line x1="178.1" y1="782.2" x2="178.1" y2="777.7" stroke="#111" stroke-width="1.4"/>
<line x1="213.6" y1="782.2" x2="213.6" y2="777.7" stroke="#111" stroke-width="1.4"/>
<line x1="249.1" y1="782.2" x2="249.1" y2="777.7" stroke="#111" stroke-width="1.4"/>
<line x1="284.6" y1="782.2" x2="284.6" y2="777.7" stroke="#111" stroke-width="1.4"/>
<line x1="320.1" y1="782.2" x2="320.1" y2="777.7" stroke="#111" stroke-width="1.4"/>
<line x1="89.35" y1="782.2" x2="89.35" y2="779.7" stroke="#111" stroke-width="1.4"/>
<line x1="124.85" y1="782.2" x2="124.85" y2="779.7" stroke="#111" stroke-width="1.4"/>
<line x1="160.35" y1="782.2" x2="160.35" y2="779.7" stroke="#111" stroke-width="1.4"/>
<line x1="195.85" y1="782.2" x2="195.85" y2="779.7" stroke="#111" stroke-width="1.4"/>
<line x1="231.35" y1="782.2" x2="231.35" y2="779.7" stroke="#111" stroke-width="1.4"/>
<line x1="266.85" y1="782.2" x2="266.85" y2="779.7" stroke="#111" stroke-width="1.4"/>
<line x1="302.35" y1="782.2" x2="302.35" y2="779.7" stroke="#111" stroke-width="1.4"/>
<text x="48.3" y="787.4" font-size="16" text-anchor="end" font-weight="normal" font-style="normal" fill="#111" >0</text>
<text x="48.3" y="746.7" font-size="16" text-anchor="end" font-weight="normal" font-style="normal" fill="#111" >50</text>
<text x="48.3" y="706" font-size="16" text-anchor="end" font-weight="normal" font-style="normal" fill="#111" >100</text>
<text x="48.3" y="665.3" font-size="16" text-anchor="end" font-weight="normal" font-style="normal" fill="#111" >150</text>
<text x="48.3" y="624.6" font-size="16" text-anchor="end" font-weight="normal" font-style="normal" fill="#111" >200</text>
<text x="48.3" y="583.9" font-size="16" text-anchor="end" font-weight="normal" font-style="normal" fill="#111" >250</text>
<text x="189.5" y="798.4" font-size="16" text-anchor="middle" font-weight="normal" font-style="normal" fill="#111" >Samples</text>
<text x="0" y="0" font-size="16.3" text-anchor="middle" font-weight="normal" font-style="normal" fill="#111" transform="translate(12.2,660.5) rotate(-90)">Microhardness (Hv)</text>
<text x="7.8" y="569.7" font-size="27" text-anchor="start" font-weight="bold" font-style="normal" fill="#000" >e</text>
<text x="106" y="584.2" font-size="16" text-anchor="start" font-weight="normal" font-style="normal" fill="#111" >This work</text>
<text x="243" y="584.2" font-size="16" text-anchor="start" font-weight="normal" font-style="normal" fill="#111" >Other work</text>
<path d="M66.4,650.3 Q88.5,630.5 117.6,618.8 L113.1,614.1 L134.2,615.3 L120.1,630.9 L118.9,623.8 Q94,636.5 71.7,657.8 L76.4,648.2 Z" fill="#e8702e"/>
<text transform="translate(76,775.2) rotate(-90)" font-size="12" fill="#111">GeTe</text>
<text transform="translate(112.9,777.6) rotate(-90)" font-size="12" fill="#111">(GeTe)<tspan font-size="8" dy="2.4">0.97</tspan><tspan dy="-2.4">(CuBiS</tspan><tspan font-size="8" dy="2.4">2</tspan><tspan dy="-2.4">)</tspan><tspan font-size="8" dy="2.4">0.03</tspan></text>
<text transform="translate(148.4,777.6) rotate(-90)" font-size="12" fill="#111">(GeTe)<tspan font-size="8" dy="2.4">0.95</tspan><tspan dy="-2.4">(CuBiS</tspan><tspan font-size="8" dy="2.4">2</tspan><tspan dy="-2.4">)</tspan><tspan font-size="8" dy="2.4">0.05</tspan></text>
<text transform="translate(183.9,777.6) rotate(-90)" font-size="12" fill="#111">(GeTe)<tspan font-size="8" dy="2.4">0.93</tspan><tspan dy="-2.4">(CuBiS</tspan><tspan font-size="8" dy="2.4">2</tspan><tspan dy="-2.4">)</tspan><tspan font-size="8" dy="2.4">0.07</tspan></text>
<text transform="translate(217.6,774) rotate(-90)" font-size="12.4" fill="#111">Ge<tspan font-size="8.4" dy="2.4">0.94</tspan><tspan dy="-2.4">Bi</tspan><tspan font-size="8.4" dy="2.4">0.06</tspan><tspan dy="-2.4">Te</tspan></text>
<text transform="translate(254,769) rotate(-90)" font-size="12" fill="#111">TAGS-80</text>
<text transform="translate(288.8,781.6) rotate(-90)" font-size="10" fill="#111">(Ge<tspan font-size="6.8" dy="2">0.9</tspan><tspan dy="-2">Sb</tspan><tspan font-size="6.8" dy="2">0.1</tspan><tspan dy="-2">Te)</tspan><tspan font-size="6.8" dy="2">0.95</tspan><tspan dy="-2">(SnSe)</tspan><tspan font-size="6.8" dy="2">0.025</tspan><tspan dy="-2">(SnS)</tspan><tspan font-size="6.8" dy="2">0.025</tspan></text>
<text transform="translate(323.8,775.4) rotate(-90)" font-size="12" fill="#111">Ge<tspan font-size="8" dy="2.4">0.89</tspan><tspan dy="-2.4">Tb</tspan><tspan font-size="8" dy="2.4">0.01</tspan><tspan dy="-2.4">Sb</tspan><tspan font-size="8" dy="2.4">0.1</tspan><tspan dy="-2.4">Te</tspan></text>
<rect x="398.8" y="554.8" width="281.7" height="227.6" fill="none" stroke="#111" stroke-width="1.4"/>
<line x1="398.8" y1="782.4" x2="403" y2="782.4" stroke="#111" stroke-width="1.4"/>
<line x1="398.8" y1="731.85" x2="403" y2="731.85" stroke="#111" stroke-width="1.4"/>
<line x1="398.8" y1="681.3" x2="403" y2="681.3" stroke="#111" stroke-width="1.4"/>
<line x1="398.8" y1="630.75" x2="403" y2="630.75" stroke="#111" stroke-width="1.4"/>
<line x1="398.8" y1="580.2" x2="403" y2="580.2" stroke="#111" stroke-width="1.4"/>
<line x1="398.8" y1="757.12" x2="401.4" y2="757.12" stroke="#111" stroke-width="1.4"/>
<line x1="398.8" y1="706.58" x2="401.4" y2="706.58" stroke="#111" stroke-width="1.4"/>
<line x1="398.8" y1="656.02" x2="401.4" y2="656.02" stroke="#111" stroke-width="1.4"/>
<line x1="398.8" y1="605.48" x2="401.4" y2="605.48" stroke="#111" stroke-width="1.4"/>
<line x1="398.8" y1="554.92" x2="401.4" y2="554.92" stroke="#111" stroke-width="1.4"/>
<line x1="398.8" y1="782.4" x2="398.8" y2="778.2" stroke="#111" stroke-width="1.4"/>
<line x1="469.2" y1="782.4" x2="469.2" y2="778.2" stroke="#111" stroke-width="1.4"/>
<line x1="539.6" y1="782.4" x2="539.6" y2="778.2" stroke="#111" stroke-width="1.4"/>
<line x1="610" y1="782.4" x2="610" y2="778.2" stroke="#111" stroke-width="1.4"/>
<line x1="680.4" y1="782.4" x2="680.4" y2="778.2" stroke="#111" stroke-width="1.4"/>
<line x1="434" y1="782.4" x2="434" y2="779.8" stroke="#111" stroke-width="1.4"/>
<line x1="504.4" y1="782.4" x2="504.4" y2="779.8" stroke="#111" stroke-width="1.4"/>
<line x1="574.8" y1="782.4" x2="574.8" y2="779.8" stroke="#111" stroke-width="1.4"/>
<line x1="645.2" y1="782.4" x2="645.2" y2="779.8" stroke="#111" stroke-width="1.4"/>
<text x="393.2" y="787.6" font-size="16" text-anchor="end" font-weight="normal" font-style="normal" fill="#111" >0</text>
<text x="393.2" y="737.05" font-size="16" text-anchor="end" font-weight="normal" font-style="normal" fill="#111" >100</text>
<text x="393.2" y="686.5" font-size="16" text-anchor="end" font-weight="normal" font-style="normal" fill="#111" >200</text>
<text x="393.2" y="635.95" font-size="16" text-anchor="end" font-weight="normal" font-style="normal" fill="#111" >300</text>
<text x="393.2" y="585.4" font-size="16" text-anchor="end" font-weight="normal" font-style="normal" fill="#111" >400</text>
<text x="398.8" y="800" font-size="16" text-anchor="middle" font-weight="normal" font-style="normal" fill="#111" >0</text>
<text x="469.2" y="800" font-size="16" text-anchor="middle" font-weight="normal" font-style="normal" fill="#111" >1</text>
<text x="539.6" y="800" font-size="16" text-anchor="middle" font-weight="normal" font-style="normal" fill="#111" >2</text>
<text x="610" y="800" font-size="16" text-anchor="middle" font-weight="normal" font-style="normal" fill="#111" >3</text>
<text x="680.4" y="800" font-size="16" text-anchor="middle" font-weight="normal" font-style="normal" fill="#111" >4</text>
<text x="543.6" y="814.2" font-size="16" text-anchor="middle" font-weight="normal" font-style="normal" fill="#111" >Strain (%)</text>
<text x="0" y="0" font-size="15.8" text-anchor="middle" font-weight="normal" font-style="normal" fill="#111" transform="translate(362.2,669.6) rotate(-90)">Compressive stress (Mpa)</text>
<text x="362" y="570.3" font-size="24" text-anchor="start" font-weight="bold" font-style="normal" fill="#000" >f</text>
<path d="M398.8,776.84 L419.92,775.83 L453.01,773.81 L494.54,770.27 L519.89,767.99 L566.35,764 L606.48,760.51 L622.67,760.51 L631.12,763.8" fill="none" stroke="#f04a4a" stroke-width="1.9" stroke-dasharray="4.2,3.4"/>
<path d="M412.88,782.4 L431.18,778.36 L453.01,772.59 L476.24,768.75 L494.54,765.72" fill="none" stroke="#b07ae8" stroke-width="1.9" stroke-dasharray="4.2,3.4"/>
<path d="M398.8,780.88 L419.92,778.36 L438.93,774.01 L467.79,767.39 L494.54,761.67 L519.89,754.6 L528.34,752.32 L530.45,757.63" fill="none" stroke="#2e6ff0" stroke-width="1.9" stroke-dasharray="4.2,3.4"/>
<path d="M398.8,780.88 L419.92,777.85 L438.93,772.59 L467.79,762.28 L494.54,750.71 L519.89,739.94 L543.12,730.59 L566.35,724.27 L579.02,724.27 L581.84,731.85" fill="none" stroke="#3aa86a" stroke-width="1.9" stroke-dasharray="4.2,3.4"/>
<path d="M398.8,781.39 L412.88,779.37 L424.14,775.53 L438.93,768.25 L453.01,758.14 L472.02,747.22 L484.69,738.42 L491.73,733.37 L499.19,727.4 L504.4,725.48 L508.69,726.69 L513.83,720.88 L521.08,718 L529.88,713.65 L537.21,709.2 L543.12,705.56 L547.34,700.51 L554.74,696.11 L562.13,693.13 L569.87,693.18 L585.36,687.37 L606.48,678.52 L617.74,691.92 L626.19,706.07 L627.6,714.16" fill="none" stroke="#d09a18" stroke-width="1.9" stroke-dasharray="4.2,3.4"/>
<path d="M398.8,782.4 L410.77,782.4 L417.1,778.36 L424.14,771.28 L431.18,762.18 L438.93,753.59 L445.97,744.99 L453.01,734.63 L460.75,722.75 L469.2,708.09 L479.06,687.87 L480.46,686.36 L493.14,666.64 L507.22,644.4 L519.89,623.17 L524.82,614.83 L526.22,617.61 L533.26,605.48 L533.26,652.69" fill="none" stroke="#ff0000" stroke-width="3.2" stroke-linejoin="round"/>
<path d="M398.8,780.88 L409.36,779.87 L417.1,777.35 L424.14,771.28 L431.18,762.18 L438.93,753.59 L445.97,744.99 L453.01,734.63 L463.57,718.71 L477.65,703.54 L477.65,720.22" fill="none" stroke="#20c8d8" stroke-width="1.9" stroke-dasharray="4.2,3.4"/>
<line x1="562.8" y1="564.5" x2="581.5" y2="564.5" stroke="#ff0000" stroke-width="3"/>
<text x="585.5" y="568.7" font-size="11.7" fill="#111" xml:space="preserve">This work</text>
<line x1="562.6" y1="579.5" x2="581.5" y2="579.5" stroke="#f04a4a" stroke-width="1.8" stroke-dasharray="3.5,4"/>
<text x="585.5" y="583.7" font-size="11.7" fill="#111" xml:space="preserve">Cu<tspan font-size="8" dy="2.5">2</tspan><tspan dy="-2.5">Se Ying et al</tspan></text>
<line x1="562.6" y1="597" x2="581.5" y2="597" stroke="#2e6ff0" stroke-width="1.8" stroke-dasharray="3.5,4"/>
<text x="585.5" y="601.2" font-size="11.7" fill="#111" xml:space="preserve">SnSe Gong et al</text>
<line x1="562.6" y1="611.5" x2="581.5" y2="611.5" stroke="#3aa86a" stroke-width="1.8" stroke-dasharray="3.5,4"/>
<text x="585.5" y="615.7" font-size="11.7" fill="#111" xml:space="preserve">SnTe Guo et al</text>
<line x1="562.6" y1="626.2" x2="581.5" y2="626.2" stroke="#b07ae8" stroke-width="1.8" stroke-dasharray="3.5,4"/>
<text x="585.5" y="630.4" font-size="11.7" fill="#111" xml:space="preserve">Bi<tspan font-size="8" dy="2.5">2</tspan><tspan dy="-2.5">Te</tspan><tspan font-size="8" dy="2.5">3</tspan><tspan dy="-2.5">  Qiu et al</tspan></text>
<line x1="562.6" y1="643" x2="581.5" y2="643" stroke="#d09a18" stroke-width="1.8" stroke-dasharray="3.5,4"/>
<text x="585.5" y="647.2" font-size="11.7" fill="#111" xml:space="preserve">GeTe Zhao et al</text>
<line x1="562.6" y1="657" x2="581.5" y2="657" stroke="#20c8d8" stroke-width="1.8" stroke-dasharray="3.5,4"/>
<text x="585.5" y="661.2" font-size="11.7" fill="#111" xml:space="preserve">GeTe Zhang et al</text>
</svg>
</body></html>
